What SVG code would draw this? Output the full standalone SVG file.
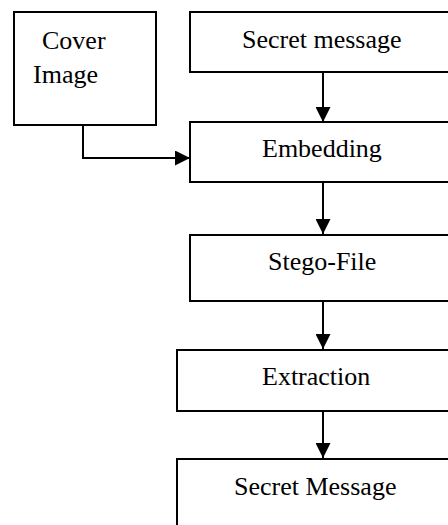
<svg xmlns="http://www.w3.org/2000/svg" width="448" height="525" viewBox="0 0 448 525">
  <style>
    .box { fill: #ffffff; stroke: #000000; stroke-width: 2; }
    .label { font-family: "Liberation Serif", "Times New Roman", serif; font-size: 26px; fill: #000000; }
    .wire { fill: none; stroke: #000000; stroke-width: 2; }
  </style>
  <defs>
    <marker id="arrow" viewBox="0 0 15 15" refX="15" refY="7.5" markerWidth="15" markerHeight="15" markerUnits="userSpaceOnUse" orient="auto">
      <path d="M0,0 L15,7.5 L0,15 Z" fill="#000000"/>
    </marker>
  </defs>
  <rect width="448" height="525" fill="#ffffff"/>

  <g id="cover-image">
    <rect class="box" x="14" y="12" width="142" height="113"/>
    <text class="label" x="42" y="49">Cover</text>
    <text class="label" x="33" y="83">Image</text>
  </g>

  <g id="secret-message-in">
    <rect class="box" x="190" y="12" width="266" height="60"/>
    <text class="label" x="242" y="48">Secret message</text>
  </g>

  <g id="embedding">
    <rect class="box" x="190" y="122" width="266" height="60"/>
    <text class="label" x="262" y="157">Embedding</text>
  </g>

  <g id="stego-file">
    <rect class="box" x="190" y="235" width="266" height="66"/>
    <text class="label" x="268" y="270">Stego-File</text>
  </g>

  <g id="extraction">
    <rect class="box" x="177" y="350" width="279" height="61"/>
    <text class="label" x="262" y="385">Extraction</text>
  </g>

  <g id="secret-message-out">
    <rect class="box" x="177" y="459" width="279" height="80"/>
    <text class="label" x="234" y="495">Secret Message</text>
  </g>

  <g id="connectors">
    <path class="wire" d="M83,125 V158 H190" marker-end="url(#arrow)"/>
    <path class="wire" d="M323,72 V122" marker-end="url(#arrow)"/>
    <path class="wire" d="M323,182 V234" marker-end="url(#arrow)"/>
    <path class="wire" d="M323,301 V349" marker-end="url(#arrow)"/>
    <path class="wire" d="M323,411 V458" marker-end="url(#arrow)"/>
  </g>
</svg>
